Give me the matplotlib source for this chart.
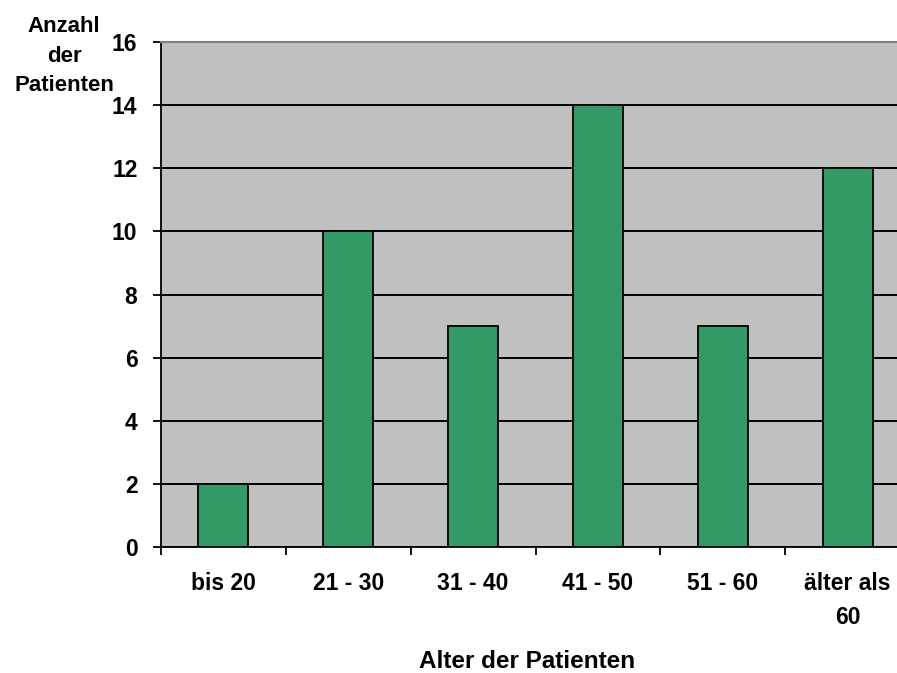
import numpy as np
import matplotlib.pyplot as plt
from matplotlib.ticker import FixedLocator, FixedFormatter

plt.rcParams['font.family'] = ['Liberation Sans', 'DejaVu Sans']
plt.rcParams['font.weight'] = 'bold'

# Altersgruppen und Patientenzahlen
categories = ["bis 20", "21 - 30", "31 - 40", "41 - 50", "51 - 60", "älter als\n60"]
counts = [2, 10, 7, 14, 7, 12]
y_ticks = [0, 2, 4, 6, 8, 10, 12, 14, 16]

fig = plt.figure(figsize=(8.97, 6.73), dpi=100)
# plot area runs a bit past the right edge of the figure
ax = fig.add_axes([161 / 897, 1 - 547 / 673, 749 / 897, 505 / 673])
ax.set_facecolor("#C0C0C0")

x = np.arange(len(categories)) + 0.5
ax.bar(x, counts, width=0.4, color="#339966", edgecolor="black", linewidth=1.3, zorder=3)

ax.set_xlim(0, len(categories))
ax.set_ylim(0, 16)

ax.set_yticks(y_ticks)
ax.yaxis.grid(True, color="black", linewidth=1.4, zorder=1)
ax.set_axisbelow(True)

# Striche an den Kategoriegrenzen, Beschriftung in der Mitte
ax.xaxis.set_major_locator(FixedLocator(np.arange(len(categories) + 1)))
ax.xaxis.set_major_formatter(FixedFormatter([""] * (len(categories) + 1)))
ax.xaxis.set_minor_locator(FixedLocator(x))
ax.xaxis.set_minor_formatter(FixedFormatter(categories))
ax.tick_params(axis="x", which="major", length=6, width=1.3, direction="out", color="black")
ax.tick_params(axis="x", which="minor", length=0, pad=18, labelsize=16.5)
ax.tick_params(axis="y", length=6, width=1.3, direction="out", pad=11, labelsize=16.5)
for lab in ax.get_xticklabels(minor=True):
    lab.set_linespacing(1.6)
    lab.set_verticalalignment("top")

ax.spines["right"].set_visible(False)
ax.spines["top"].set_color("#808080")
ax.spines["top"].set_linewidth(1.5)
ax.spines["left"].set_linewidth(1.3)
ax.spines["bottom"].set_linewidth(1.3)

fig.text(527 / 897, 1 - 661 / 673, "Alter der Patienten", ha="center", va="center",
         fontsize=17.5, fontweight="bold")
fig.text(64 / 897, 1 - 56 / 673, "Anzahl\nder\nPatienten", ha="center", va="center",
         fontsize=16, fontweight="bold", linespacing=1.55)

fig.savefig("out.png", dpi=100)
